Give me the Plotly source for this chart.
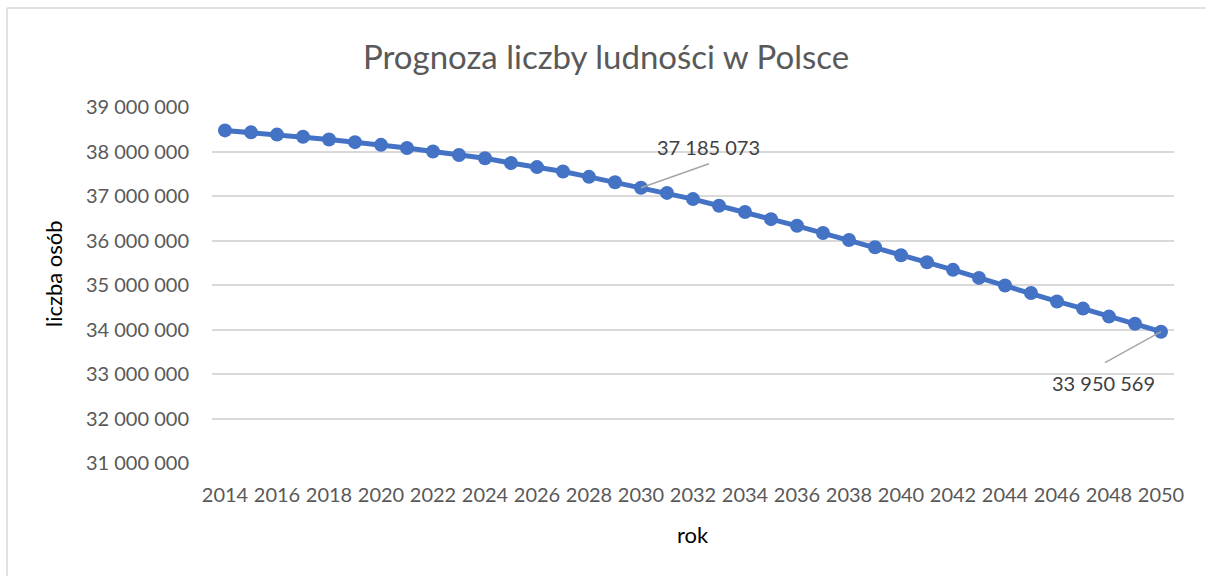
import plotly.graph_objects as go

# Population forecast for Poland, 2014-2050
years = list(range(2014, 2051))
population = [
    38474000, 38430000, 38380000, 38330000, 38270000, 38210000, 38150000,
    38080000, 38000000, 37920000, 37850000, 37740000, 37650000, 37550000,
    37430000, 37310000, 37185073, 37070000, 36930000, 36780000, 36640000,
    36480000, 36330000, 36170000, 36010000, 35850000, 35670000, 35510000,
    35340000, 35160000, 34990000, 34820000, 34630000, 34470000, 34290000,
    34130000, 33950569,
]
x_ticks = list(range(2014, 2051, 2))
y_ticks = list(range(31000000, 39000001, 1000000))

labelled_years = [2030, 2050]

W, H = 1206, 576
ML, MR, MT, MB = 212, 32, 107, 113
PW, PH = W - ML - MR, H - MT - MB

FONT = "Lato"
GREY = "#595959"
BLUE = "#4472C4"


def px(x):
    return (x - ML) / PW


def py(y):
    return (H - MB - y) / PH


fig = go.Figure()
fig.add_trace(go.Scatter(
    x=years, y=population, mode="lines+markers",
    line=dict(color=BLUE, width=5),
    marker=dict(color=BLUE, size=14),
    hoverinfo="x+y", showlegend=False,
))

# value labels with leader lines
label_offsets = {2030: ((67, 41), (68, 24)), 2050: ((-58, -51), (-56, -31))}
shapes = []
annotations = []
for yr in labelled_years:
    val = population[years.index(yr)]
    (tx, ty), (lx, ly) = label_offsets[yr]
    annotations.append(dict(
        x=yr, y=val, xref="x", yref="y", showarrow=False,
        text=f"{val:,}".replace(",", " "), xshift=tx, yshift=ty,
        font=dict(family=FONT, size=20, color="#404040"),
    ))
    shapes.append(dict(
        type="line", xref="x", yref="y",
        xsizemode="pixel", ysizemode="pixel",
        xanchor=yr, yanchor=val, x0=0, y0=0, x1=lx, y1=ly,
        line=dict(color="#A6A6A6", width=1.5),
    ))

# chart frame
shapes.append(dict(type="line", xref="paper", yref="paper",
                   x0=px(7), x1=px(7), y0=py(8), y1=py(H + 5),
                   line=dict(color="#D9D9D9", width=1.5)))
shapes.append(dict(type="line", xref="paper", yref="paper",
                   x0=px(7), x1=px(W + 5), y0=py(8), y1=py(8),
                   line=dict(color="#D9D9D9", width=1.5)))

annotations += [
    dict(text="Prognoza liczby ludności w Polsce", x=px(606), y=py(56),
         xref="paper", yref="paper", showarrow=False,
         xanchor="center", yanchor="middle",
         font=dict(family=FONT, size=33, color=GREY)),
    dict(text="liczba osób", x=px(53), y=py(274), textangle=-90,
         xref="paper", yref="paper", showarrow=False,
         xanchor="center", yanchor="middle",
         font=dict(family=FONT, size=22, color="#000000")),
    dict(text="rok", x=px(693), y=py(534),
         xref="paper", yref="paper", showarrow=False,
         xanchor="center", yanchor="middle",
         font=dict(family=FONT, size=22, color="#000000")),
]

fig.update_layout(
    width=W, height=H,
    margin=dict(l=ML, r=MR, t=MT, b=MB, pad=0),
    paper_bgcolor="white", plot_bgcolor="white",
    separators=", ",
    shapes=shapes, annotations=annotations,
    xaxis=dict(
        range=[2013.5, 2050.5], tickvals=x_ticks, ticktext=[str(v) for v in x_ticks],
        showgrid=False, zeroline=False, showline=False, ticks="",
        tickfont=dict(family=FONT, size=20, color=GREY),
        ticklabelstandoff=18,
    ),
    yaxis=dict(
        range=[31000000, 39000000], tickvals=y_ticks,
        ticktext=[f"{v:,}".replace(",", " ") for v in y_ticks],
        showgrid=True, gridcolor="#D9D9D9", gridwidth=1.5,
        zeroline=False, showline=False, ticks="",
        tickfont=dict(family=FONT, size=20, color=GREY),
        ticklabelstandoff=22,
    ),
)

fig.write_html("out.html")
